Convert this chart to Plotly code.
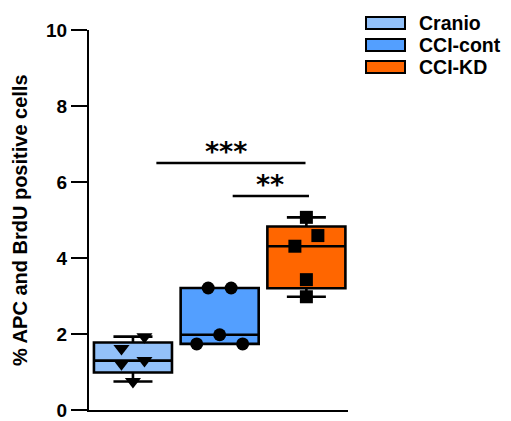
import plotly.graph_objects as go

# ---- data -------------------------------------------------------------
groups = ["Cranio", "CCI-cont", "CCI-KD"]
cranio = [0.75, 1.22, 1.30, 1.62, 1.93]
cci_cont = [1.74, 1.74, 1.98, 3.21, 3.21]
cci_kd = [2.98, 3.43, 4.31, 4.59, 5.07]
values = [cranio, cci_cont, cci_kd]

y_ticks = [0, 2, 4, 6, 8, 10]
y_title = "% APC and BrdU positive cells"

# significance brackets: label, line start/end (group index units), height
sig_labels = ["***", "**"]
sig_x0 = [0.27, 1.15]
sig_x1 = [1.99, 2.03]
sig_y = [6.5, 5.63]
sig_label_x = [1.07, 1.58]

# ---- styling ----------------------------------------------------------
fills = ["#93C1F9", "#539FFF", "#FF6600"]
symbols = ["triangle-down", "circle", "square"]
sizes = [14, 13, 13]
FONT = "Arial, Liberation Sans, sans-serif"

W, H = 511, 421
L, R, T, B = 89, 163, 30, 11
plot_w = W - L - R
plot_h = H - T - B


def px_x(px):
    return (px - L) / plot_w


def px_y(py):
    return (H - B - py) / plot_h


def swarm_offsets(vals, gap=0.35, step=0.265):
    """Place points of similar value side by side (beeswarm rows)."""
    order = sorted(range(len(vals)), key=lambda i: vals[i])
    rows, cur = [], []
    for i in order:
        if cur and vals[i] - vals[cur[0]] >= gap:
            rows.append(cur)
            cur = []
        cur.append(i)
    if cur:
        rows.append(cur)
    offs = [0.0] * len(vals)
    for row in rows:
        n = len(row)
        slots = [(k - (n - 1) / 2) * step for k in range(n)]
        # fill from the outside in: left, right, next left, ...
        seq, lo, hi = [], 0, n - 1
        while lo <= hi:
            seq.append(slots[lo])
            if hi != lo:
                seq.append(slots[hi])
            lo += 1
            hi -= 1
        for idx, s in zip(row, seq):
            offs[idx] = s
    return offs


fig = go.Figure()

for i, (name, vals) in enumerate(zip(groups, values)):
    fig.add_trace(go.Box(
        x=[i] * len(vals), y=vals, name=name,
        boxpoints=False, quartilemethod="exclusive",
        fillcolor=fills[i], line=dict(color="black", width=2.6),
        width=0.9, whiskerwidth=0.5, showlegend=False, hoverinfo="skip",
    ))

for i, vals in enumerate(values):
    offs = swarm_offsets(vals)
    fig.add_trace(go.Scatter(
        x=[i + o for o in offs], y=vals, mode="markers",
        marker=dict(symbol=symbols[i], size=sizes[i], color="black",
                    line=dict(width=0)),
        showlegend=False, hoverinfo="skip",
    ))

shapes = []
annotations = []

# significance brackets
for lab, x0, x1, yv, xt in zip(sig_labels, sig_x0, sig_x1, sig_y, sig_label_x):
    shapes.append(dict(type="line", xref="x", yref="y", x0=x0, x1=x1,
                       y0=yv, y1=yv, line=dict(color="black", width=2.5)))
    annotations.append(dict(text=lab, x=xt, y=yv, xref="x", yref="y",
                            showarrow=False, yanchor="bottom", yshift=-6,
                            font=dict(family="DejaVu Sans", size=27,
                                      color="black", weight="bold")))

# legend drawn as swatches + labels
for i, name in enumerate(groups):
    top = 17 + 22 * i
    shapes.append(dict(type="rect", xref="paper", yref="paper",
                       x0=px_x(366), x1=px_x(405),
                       y0=px_y(top), y1=px_y(top + 12),
                       fillcolor=fills[i], line=dict(color="black", width=2)))
    annotations.append(dict(text=name, x=px_x(417), y=px_y(top + 6),
                            xref="paper", yref="paper", xanchor="left",
                            yanchor="middle", showarrow=False,
                            font=dict(family=FONT, size=19.5, color="black",
                                      weight="bold")))

# y-axis title
annotations.append(dict(text=y_title, x=px_x(20), y=0.5, xref="paper",
                        yref="paper", textangle=-90, showarrow=False,
                        xanchor="center", yanchor="middle",
                        font=dict(family=FONT, size=20, color="black",
                                  weight="bold")))

fig.update_layout(
    template="none",
    width=W, height=H,
    margin=dict(l=L, r=R, t=T, b=B, pad=0),
    paper_bgcolor="white", plot_bgcolor="white",
    shapes=shapes, annotations=annotations,
    showlegend=False,
    xaxis=dict(range=[-0.507, 2.48], showgrid=False, zeroline=False,
               showline=True, linecolor="black", linewidth=2,
               ticks="", showticklabels=False, automargin=False,
               fixedrange=True),
    yaxis=dict(range=[0, 10], tickvals=y_ticks, showgrid=False,
               zeroline=False, showline=True, linecolor="black",
               linewidth=2, ticks="outside", ticklen=16, tickwidth=2,
               tickcolor="black", automargin=False, fixedrange=True,
               ticklabeloverflow="allow",
               tickfont=dict(family=FONT, size=19, color="black",
                             weight="bold")),
)

fig.write_html("out.html", config={"displayModeBar": False})
